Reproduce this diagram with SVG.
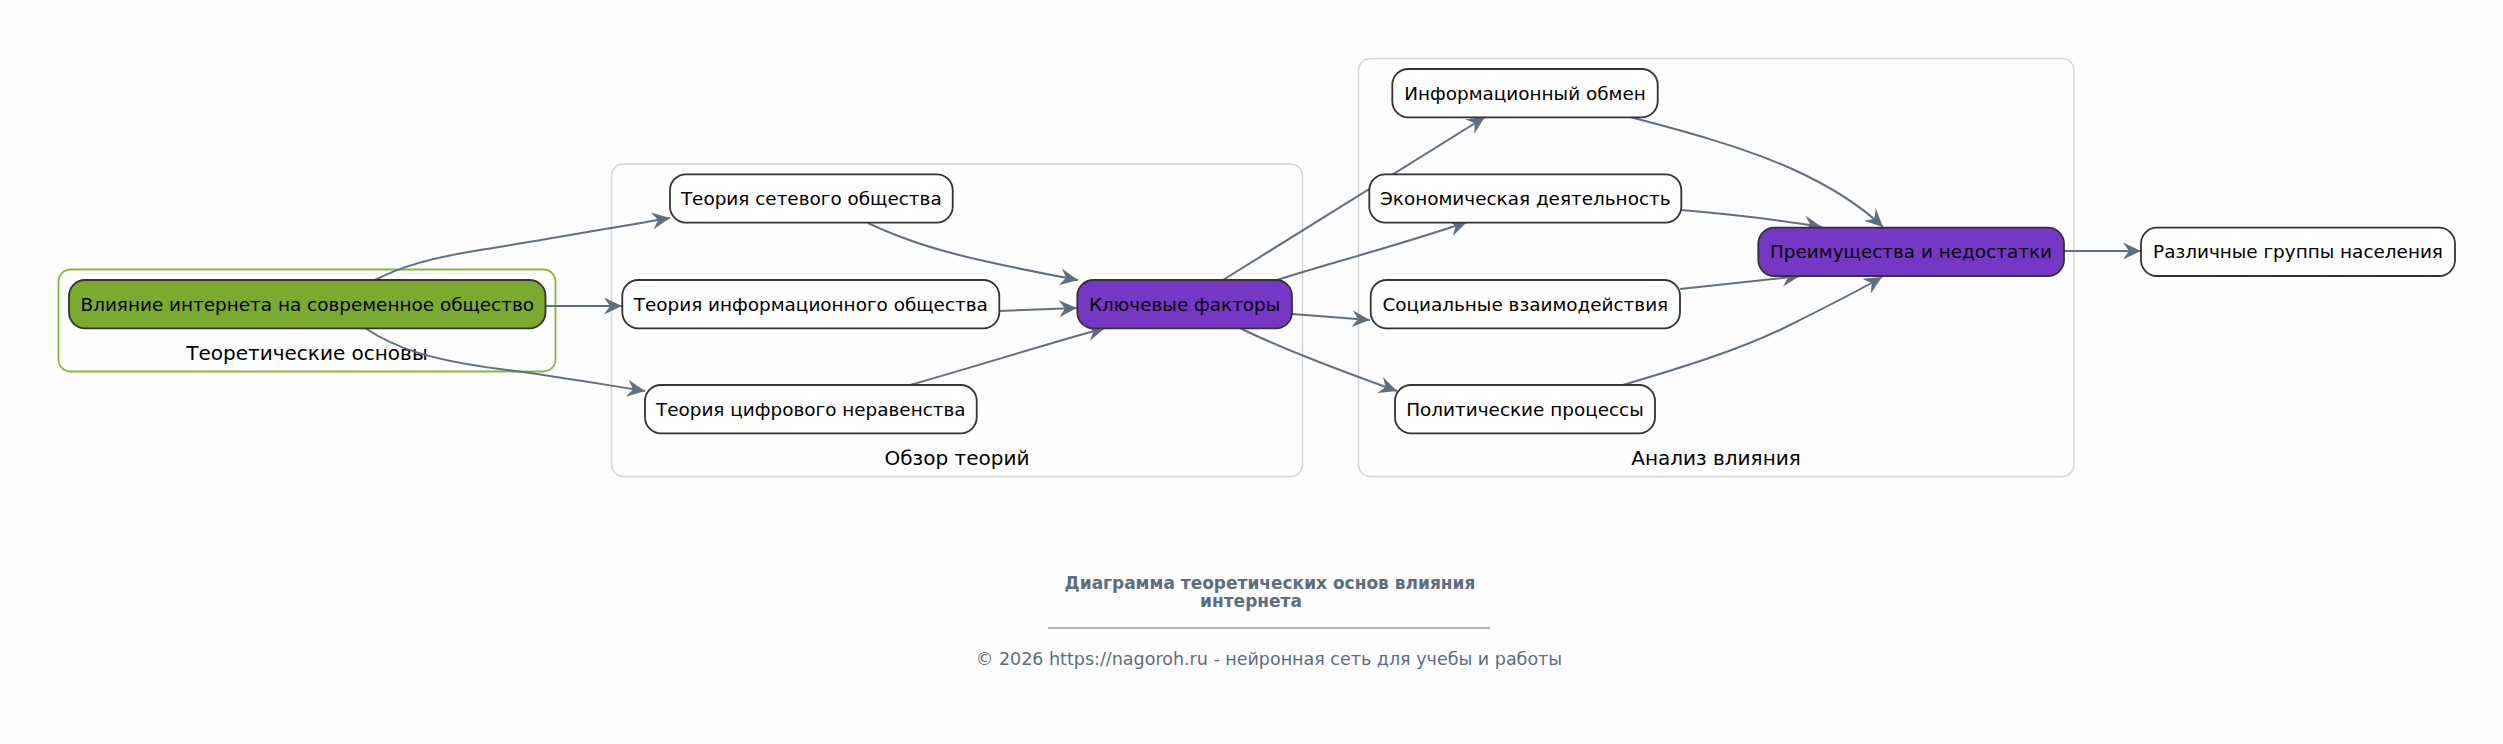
<svg xmlns="http://www.w3.org/2000/svg" width="2503" height="744" viewBox="0 0 2503 744">
<style>
.bg{fill:#fdfdfd}
.cl{fill:#fdfdfd;stroke:#d4d4d4;stroke-width:1.5}
.clg{fill:#fdfdfd;stroke:#8cb440;stroke-width:1.8}
.nd{fill:#ffffff;stroke:#333333;stroke-width:1.8}
.ndg{fill:#7aab2e;stroke:#333333;stroke-width:1.8}
.ndp{fill:#7638c4;stroke:#333333;stroke-width:1.8}
.t{font-family:"DejaVu Sans",sans-serif;font-size:18.4px;fill:#000;text-anchor:middle}
.ct{font-family:"DejaVu Sans",sans-serif;font-size:20px;fill:#000;text-anchor:middle}
.e{fill:none;stroke:#5f6f7f;stroke-width:2}
.ti{font-family:"DejaVu Sans",sans-serif;font-size:17px;font-weight:bold;fill:#5d6d7e;text-anchor:middle}
.cp{font-family:"DejaVu Sans",sans-serif;font-size:17.5px;fill:#5d6d7e;text-anchor:middle}
</style>
<defs>
<marker id="ar" markerUnits="userSpaceOnUse" markerWidth="20" markerHeight="20" viewBox="-19 -10 20 20" refX="0" refY="0" orient="auto">
<path d="M0,0 L-18,-8.5 L-12,0 L-18,8.5 Z" fill="#5f6f7f"/>
</marker>
</defs>
<rect class="bg" x="0" y="0" width="2503" height="744"/>
<g id="cluster-theory">
<rect class="clg" x="58.5" y="269.5" width="497" height="102" rx="12"/>
<text class="ct" x="307" y="360">Теоретические основы</text>
</g>
<g id="cluster-review">
<rect class="cl" x="611.5" y="164" width="691" height="312.5" rx="12"/>
<text class="ct" x="957" y="465">Обзор теорий</text>
</g>
<g id="cluster-analysis">
<rect class="cl" x="1358.5" y="58.5" width="715.5" height="418" rx="12"/>
<text class="ct" x="1716" y="465">Анализ влияния</text>
</g>
<g id="edges">
<path class="e" marker-end="url(#ar)" d="M375,280 C400,267 430,258 480,250 C550,239 610,228 670,218"/>
<path class="e" marker-end="url(#ar)" d="M546,306 L622,306"/>
<path class="e" marker-end="url(#ar)" d="M365,328 C395,348 430,360 500,369 C560,377 600,384 645,391"/>
<path class="e" marker-end="url(#ar)" d="M868,223 C895,236 930,249 980,260 C1015,268 1045,274 1078,280"/>
<path class="e" marker-end="url(#ar)" d="M999,311 L1077,308"/>
<path class="e" marker-end="url(#ar)" d="M910,385 C980,365 1050,343 1105,328"/>
<path class="e" marker-end="url(#ar)" d="M1223,280 L1485,117"/>
<path class="e" marker-end="url(#ar)" d="M1277,280 C1330,263 1400,245 1467,222"/>
<path class="e" marker-end="url(#ar)" d="M1292,314 L1370,320"/>
<path class="e" marker-end="url(#ar)" d="M1240,328 C1270,343 1330,367 1397,391"/>
<path class="e" marker-end="url(#ar)" d="M1630,117 C1680,130 1740,146 1790,168 C1830,186 1860,205 1883,227"/>
<path class="e" marker-end="url(#ar)" d="M1681,210 C1740,215 1780,220 1822,227"/>
<path class="e" marker-end="url(#ar)" d="M1680,289 L1800,276"/>
<path class="e" marker-end="url(#ar)" d="M1623,385 C1680,368 1740,350 1790,325 C1830,305 1860,290 1882,277"/>
<path class="e" marker-end="url(#ar)" d="M2064,251 L2141,251"/>
</g>
<g id="n-influence">
<rect class="ndg" x="69" y="280" width="476.5" height="48.3" rx="16"/>
<text class="t" x="307.3" y="310.5">Влияние интернета на современное общество</text>
</g>
<g id="n-network">
<rect class="nd" x="670" y="174.3" width="282.7" height="48.3" rx="16"/>
<text class="t" x="811.3" y="205">Теория сетевого общества</text>
</g>
<g id="n-information">
<rect class="nd" x="622.3" y="280" width="377" height="48.3" rx="16"/>
<text class="t" x="810.8" y="310.5">Теория информационного общества</text>
</g>
<g id="n-digital">
<rect class="nd" x="645" y="385" width="331.7" height="48.3" rx="16"/>
<text class="t" x="810.8" y="415.5">Теория цифрового неравенства</text>
</g>
<g id="n-key">
<rect class="ndp" x="1077.3" y="280" width="214.7" height="48.3" rx="16"/>
<text class="t" x="1184.7" y="310.5">Ключевые факторы</text>
</g>
<g id="n-exchange">
<rect class="nd" x="1392.3" y="69" width="265.4" height="48.3" rx="16"/>
<text class="t" x="1525" y="99.5">Информационный обмен</text>
</g>
<g id="n-economy">
<rect class="nd" x="1369.3" y="174.3" width="312" height="48.3" rx="16"/>
<text class="t" x="1525.3" y="205">Экономическая деятельность</text>
</g>
<g id="n-social">
<rect class="nd" x="1370.7" y="280" width="309.3" height="48.3" rx="16"/>
<text class="t" x="1525.3" y="310.5">Социальные взаимодействия</text>
</g>
<g id="n-politics">
<rect class="nd" x="1395" y="385" width="260" height="48.3" rx="16"/>
<text class="t" x="1525" y="415.5">Политические процессы</text>
</g>
<g id="n-pros">
<rect class="ndp" x="1758.3" y="227.7" width="305.7" height="48.3" rx="16"/>
<text class="t" x="1911" y="258">Преимущества и недостатки</text>
</g>
<g id="n-groups">
<rect class="nd" x="2141" y="227.7" width="314" height="48.3" rx="16"/>
<text class="t" x="2298" y="258">Различные группы населения</text>
</g>
<g id="footer">
<text class="ti" x="1270" y="589">Диаграмма теоретических основ влияния</text>
<text class="ti" x="1251" y="607">интернета</text>
<line x1="1048" y1="628" x2="1490" y2="628" stroke="#5d6d7e" stroke-width="1.2"/>
<text class="cp" x="1269" y="665">© 2026 https://nagoroh.ru - нейронная сеть для учебы и работы</text>
</g>
</svg>
